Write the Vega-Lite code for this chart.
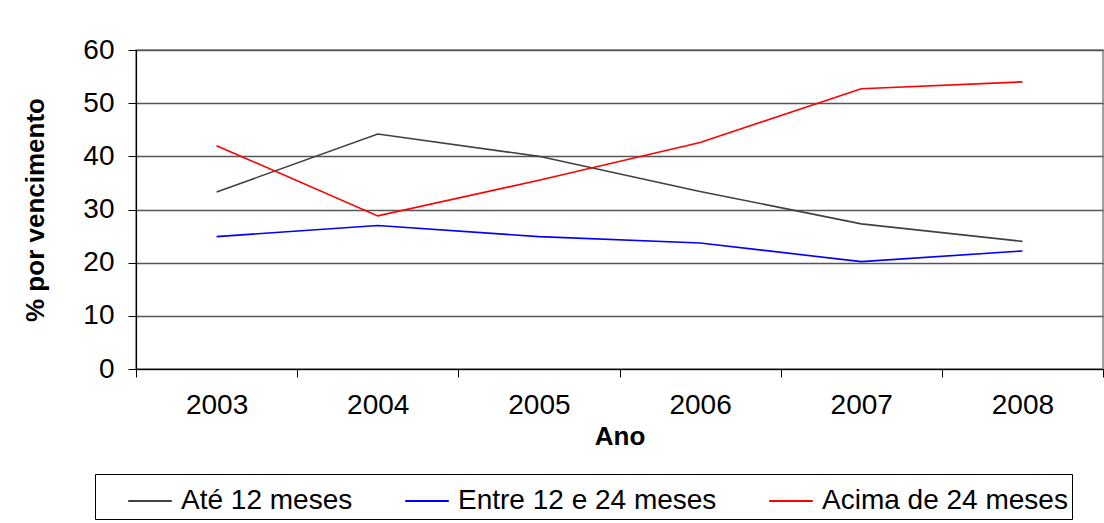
{
  "$schema": "https://vega.github.io/schema/vega-lite/v6.json",
  "autosize": "none",
  "width": 967,
  "height": 319,
  "padding": {"left": 136, "top": 50, "right": 1, "bottom": 154},
  "background": "white",
  "config": {
    "font": "Liberation Sans",
    "view": {"stroke": "#808080", "strokeWidth": 1.5}
  },
  "data": {
    "values": [
      {"ano": "2003", "serie": "Até 12 meses", "v": 33.3},
      {"ano": "2004", "serie": "Até 12 meses", "v": 44.2},
      {"ano": "2005", "serie": "Até 12 meses", "v": 40.0},
      {"ano": "2006", "serie": "Até 12 meses", "v": 33.4},
      {"ano": "2007", "serie": "Até 12 meses", "v": 27.3},
      {"ano": "2008", "serie": "Até 12 meses", "v": 24.0},
      {"ano": "2003", "serie": "Entre 12 e 24 meses", "v": 24.9},
      {"ano": "2004", "serie": "Entre 12 e 24 meses", "v": 27.0},
      {"ano": "2005", "serie": "Entre 12 e 24 meses", "v": 24.9},
      {"ano": "2006", "serie": "Entre 12 e 24 meses", "v": 23.7},
      {"ano": "2007", "serie": "Entre 12 e 24 meses", "v": 20.2},
      {"ano": "2008", "serie": "Entre 12 e 24 meses", "v": 22.2},
      {"ano": "2003", "serie": "Acima de 24 meses", "v": 42.0},
      {"ano": "2004", "serie": "Acima de 24 meses", "v": 28.8},
      {"ano": "2005", "serie": "Acima de 24 meses", "v": 35.5},
      {"ano": "2006", "serie": "Acima de 24 meses", "v": 42.6},
      {"ano": "2007", "serie": "Acima de 24 meses", "v": 52.7},
      {"ano": "2008", "serie": "Acima de 24 meses", "v": 54.0}
    ]
  },
  "mark": {"type": "line", "strokeWidth": 1.6},
  "encoding": {
    "x": {
      "field": "ano",
      "type": "ordinal",
      "scale": {"type": "band", "paddingInner": 0, "paddingOuter": 0},
      "axis": {
        "title": "Ano",
        "titleFontSize": 26,
        "titleFontWeight": "bold",
        "titleColor": "black",
        "titlePadding": 4,
        "labelAngle": 0,
        "labelFontSize": 28,
        "labelColor": "black",
        "labelPadding": 14,
        "tickBand": "extent",
        "tickSize": 8,
        "tickColor": "black",
        "domainColor": "black",
        "domainWidth": 1.2,
        "grid": false
      }
    },
    "y": {
      "field": "v",
      "type": "quantitative",
      "scale": {"domain": [0, 60], "nice": false},
      "axis": {
        "title": "% por vencimento",
        "titleFontSize": 26,
        "titleFontWeight": "bold",
        "titleColor": "black",
        "titlePadding": 34,
        "values": [0, 10, 20, 30, 40, 50, 60],
        "labelFontSize": 28,
        "labelColor": "black",
        "labelPadding": 14,
        "tickSize": 8,
        "tickColor": "black",
        "domainColor": "black",
        "domainWidth": 1.2,
        "grid": true,
        "gridColor": "#555555",
        "gridWidth": 1.3
      }
    },
    "color": {
      "field": "serie",
      "type": "nominal",
      "sort": ["Até 12 meses", "Entre 12 e 24 meses", "Acima de 24 meses"],
      "scale": {
        "domain": ["Até 12 meses", "Entre 12 e 24 meses", "Acima de 24 meses"],
        "range": ["#404040", "#0000ff", "#ff0000"]
      },
      "legend": {
        "title": null,
        "orient": "none",
        "direction": "horizontal",
        "legendX": -41,
        "legendY": 424,
        "labelFontSize": 28,
        "labelColor": "black",
        "labelOffset": 8,
        "symbolType": "stroke",
        "symbolSize": 1900,
        "symbolStrokeWidth": 2,
        "symbolOffset": 28,
        "columnPadding": 23,
        "strokeColor": "black",
        "padding": 4,
        "labelLimit": 400
      }
    }
  }
}
